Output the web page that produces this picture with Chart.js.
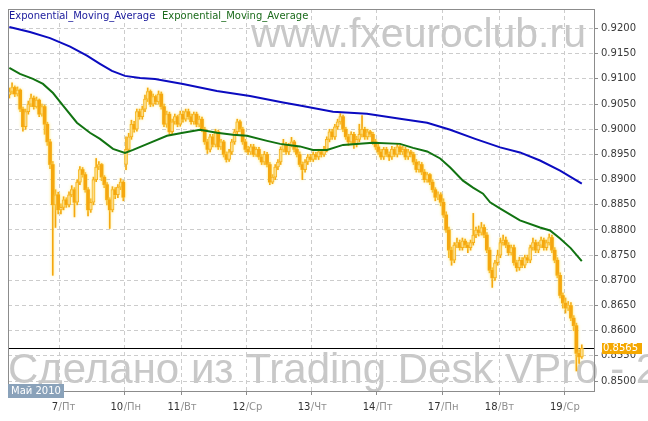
<!DOCTYPE html>
<html>
<head>
<meta charset="utf-8">
<script src="https://cdn.jsdelivr.net/npm/chart.js@4.4.1/dist/chart.umd.min.js"></script>
<style>
  html, body { margin: 0; padding: 0; background: #fff; }
  #wrap { width: 648px; height: 421px; }
</style>
</head>
<body>
<div id="wrap"><canvas id="chart"></canvas></div>
<script>
// hourly candles, prices in 1/10000 (pips), 6 May .. 19 May 2010
const opens = [
  9068, 9075, 9083, 9070, 9078, 9040, 9005, 9035, 9050, 9062, 9045, 9058, 9030, 9045, 9010, 8975, 8930, 8850, 8870,
  8840, 8845, 8860, 8850, 8870, 8880, 8855, 8895, 8920, 8910, 8880, 8840, 8855, 8900, 8925, 8930, 8905, 8890, 8860, 8840, 8880, 8870, 8885, 8895,
  8930, 8960, 8985, 9010, 9000, 9035, 9025, 9040, 9060, 9075, 9050, 9065, 9055, 9070, 9045, 9010, 9030, 8995, 9015, 9025, 9010,
  9030, 9020, 9035, 9025, 9015, 9030, 9010, 9020, 9000, 8975, 8960, 8985, 8970, 8995, 8965, 8975, 8950, 8940, 8955, 8975, 8995, 9015, 9000, 8975,
  8960, 8955, 8965, 8950, 8960, 8945, 8935, 8950, 8930, 8895, 8905, 8925, 8935, 8960, 8970, 8955, 8968, 8975, 8960, 8950, 8930, 8920, 8935, 8945,
  8940, 8950, 8945, 8955, 8950, 8960, 8980, 8995, 8985, 9005, 9015, 9025, 9000, 8985, 8975, 8990, 8970, 8980, 8990, 9000, 8985, 8995, 8990, 8975,
  8965, 8955, 8945, 8960, 8950, 8945, 8960, 8950, 8965, 8955, 8960, 8945, 8955, 8950, 8935, 8920, 8930, 8915, 8900, 8910, 8895, 8880, 8865, 8870,
  8855, 8830, 8800, 8760, 8740, 8770, 8775, 8765, 8778, 8770, 8765, 8775, 8790, 8800, 8795, 8805, 8790, 8760, 8720, 8705, 8735,
  8750, 8775, 8780, 8770, 8755, 8765, 8735, 8725, 8740, 8730, 8745, 8740, 8765, 8775, 8760, 8770, 8780, 8765, 8775, 8785, 8760, 8740, 8710, 8670,
  8655, 8645, 8650, 8625, 8610, 8555, 8548
];
const closes = [
  9075, 9083, 9070, 9078, 9040, 9005, 9035, 9050, 9062, 9045, 9058, 9030, 9045, 9010, 8975, 8930, 8850, 8870, 8840,
  8845, 8860, 8850, 8870, 8880, 8855, 8895, 8920, 8910, 8880, 8840, 8855, 8900, 8925, 8930, 8905, 8890, 8860, 8840, 8880, 8870, 8885, 8895, 8865,
  8960, 8985, 9010, 9000, 9035, 9025, 9040, 9060, 9075, 9050, 9065, 9055, 9070, 9045, 9010, 9030, 8995, 9015, 9025, 9010, 9030,
  9020, 9035, 9025, 9015, 9030, 9010, 9020, 9000, 8975, 8960, 8985, 8970, 8995, 8965, 8975, 8950, 8940, 8955, 8975, 8995, 9015, 9000, 8975, 8960,
  8955, 8965, 8950, 8960, 8945, 8935, 8950, 8930, 8895, 8905, 8925, 8935, 8960, 8970, 8955, 8968, 8975, 8960, 8950, 8930, 8920, 8935, 8945, 8940,
  8950, 8945, 8955, 8950, 8960, 8980, 8995, 8985, 9005, 9015, 9025, 9000, 8985, 8975, 8990, 8970, 8980, 8990, 9000, 8985, 8995, 8990, 8975, 8965,
  8955, 8945, 8960, 8950, 8945, 8960, 8950, 8965, 8955, 8960, 8945, 8955, 8950, 8935, 8920, 8930, 8915, 8900, 8910, 8895, 8880, 8865, 8870, 8855,
  8830, 8800, 8760, 8740, 8770, 8775, 8765, 8778, 8770, 8765, 8775, 8790, 8800, 8795, 8805, 8790, 8760, 8720, 8705, 8735, 8750,
  8775, 8780, 8770, 8755, 8765, 8735, 8725, 8740, 8730, 8745, 8740, 8765, 8775, 8760, 8770, 8780, 8765, 8775, 8785, 8760, 8740, 8710, 8670, 8655,
  8645, 8650, 8625, 8610, 8555, 8548, 8565
];
const highs = [
  9082, 9092, 9086, 9084, 9080, 9044, 9040, 9056, 9070, 9066, 9064, 9060, 9050, 9048, 9014, 8980, 8936, 8880, 8875,
  8852, 8866, 8864, 8876, 8888, 8884, 8900, 8926, 8924, 8914, 8884, 8862, 8905, 8942, 8936, 8932, 8908, 8894, 8864, 8886, 8884, 8890, 8902, 8898,
  8985, 8992, 9018, 9016, 9040, 9040, 9046, 9068, 9082, 9078, 9070, 9068, 9076, 9074, 9050, 9036, 9034, 9020, 9030, 9028, 9036,
  9036, 9040, 9040, 9030, 9034, 9034, 9026, 9024, 9004, 8980, 8990, 8990, 9000, 8998, 8980, 8978, 8955, 8960, 8980, 9000, 9020, 9018, 9004, 8980,
  8966, 8970, 8970, 8964, 8964, 8950, 8956, 8954, 8934, 8910, 8930, 8940, 8965, 8980, 8974, 8972, 8984, 8978, 8964, 8955, 8935, 8940, 8950, 8950,
  8955, 8954, 8960, 8958, 8966, 8985, 9000, 9000, 9010, 9020, 9031, 9028, 9004, 8990, 8995, 8994, 8986, 9010, 9027, 9004, 9000, 8998, 8994, 8980,
  8970, 8960, 8964, 8964, 8955, 8966, 8964, 8970, 8968, 8966, 8964, 8960, 8958, 8954, 8940, 8936, 8934, 8920, 8914, 8912, 8900, 8884, 8876, 8874,
  8862, 8836, 8806, 8766, 8775, 8784, 8780, 8784, 8782, 8775, 8780, 8833, 8806, 8808, 8815, 8810, 8795, 8765, 8725, 8740, 8760,
  8784, 8790, 8786, 8775, 8770, 8770, 8740, 8746, 8745, 8750, 8750, 8770, 8784, 8780, 8776, 8786, 8784, 8780, 8792, 8790, 8765, 8745, 8715, 8675,
  8665, 8658, 8656, 8630, 8615, 8562, 8572
];
const lows = [
  9062, 9070, 9065, 9066, 9035, 8996, 9000, 9030, 9045, 9040, 9042, 9025, 9026, 8990, 8968, 8922, 8710, 8805, 8832,
  8832, 8840, 8845, 8846, 8866, 8826, 8850, 8890, 8905, 8875, 8828, 8835, 8850, 8896, 8920, 8898, 8884, 8850, 8803, 8836, 8862, 8864, 8880, 8858,
  8920, 8955, 8980, 8994, 8996, 9020, 9020, 9035, 9055, 9045, 9046, 9050, 9050, 9040, 9005, 9004, 8990, 8990, 9010, 9005, 9006,
  9014, 9016, 9020, 9010, 9010, 9005, 9005, 8995, 8970, 8952, 8955, 8965, 8965, 8960, 8960, 8945, 8935, 8936, 8950, 8970, 8990, 8995, 8970, 8955,
  8950, 8950, 8946, 8946, 8940, 8930, 8930, 8925, 8890, 8892, 8900, 8920, 8930, 8955, 8950, 8950, 8965, 8955, 8945, 8926, 8900, 8915, 8930, 8936,
  8936, 8940, 8940, 8945, 8946, 8955, 8975, 8980, 8980, 9000, 9010, 8995, 8980, 8968, 8970, 8962, 8965, 8975, 8985, 8980, 8980, 8985, 8970, 8960,
  8950, 8940, 8940, 8946, 8938, 8940, 8946, 8945, 8950, 8950, 8940, 8940, 8945, 8930, 8915, 8915, 8910, 8895, 8895, 8890, 8875, 8858, 8860, 8848,
  8825, 8795, 8745, 8730, 8735, 8765, 8760, 8760, 8765, 8755, 8760, 8770, 8785, 8788, 8790, 8785, 8755, 8715, 8686, 8700, 8730,
  8745, 8770, 8765, 8750, 8750, 8730, 8718, 8720, 8725, 8725, 8735, 8735, 8760, 8755, 8755, 8765, 8760, 8760, 8770, 8755, 8735, 8705, 8665, 8645,
  8635, 8640, 8620, 8600, 8520, 8535, 8545
];

// moving averages, read at candle positions
const emaSlowX = [0, 7.6, 15, 22.4, 28.6, 33.4, 37.8, 42.6, 48.2, 53.7, 64, 76.5, 88.7, 100.9, 107.1, 119.3, 131.8, 144, 154, 162.5, 171.7, 180.9, 188.2, 195.6, 203, 211];
const emaSlowY = [9203, 9193, 9181, 9164, 9146, 9130, 9116, 9106, 9102, 9100, 9090, 9076, 9066, 9053, 9047, 9035, 9031, 9021, 9013, 8999, 8981, 8964, 8954, 8938, 8918, 8892];
const emaFastX = [0, 3.9, 8.7, 12.4, 16.1, 19.8, 24.9, 29.7, 33.4, 38.2, 42.6, 45.6, 51.8, 58.1, 64, 70.3, 76.5, 82.4, 87.6, 95, 99.8, 107.1, 111.9, 117.1, 123, 134, 144, 148.8, 154, 158.8, 162.5, 167.2, 170.9, 174.6, 177.2, 180.8, 188.2, 195.6, 199.3, 203, 206.9, 211];
const emaFastY = [9122, 9110, 9100, 9090, 9072, 9047, 9013, 8993, 8981, 8961, 8953, 8959, 8973, 8987, 8993, 8999, 8993, 8989, 8987, 8977, 8971, 8966, 8959, 8959, 8969, 8973, 8971, 8963, 8956, 8942, 8924, 8898, 8884, 8872, 8855, 8843, 8819, 8805, 8799, 8783, 8764, 8738];

// day separators (between candles) and their labels
const dayBounds = [18.5, 42.5, 63.5, 87.5, 111.5, 135.5, 159.5, 180.5, 204.5];
const dayNums = ["7", "10", "11", "12", "13", "14", "17", "18", "19"];
const dayNames = ["Пт", "Пн", "Вт", "Ср", "Чт", "Пт", "Пн", "Вт", "Ср"];

const yTicks = [0.8500, 0.8550, 0.8600, 0.8650, 0.8700, 0.8750, 0.8800, 0.8850, 0.8900, 0.8950, 0.9000, 0.9050, 0.9100, 0.9150, 0.9200];
const lastPrice = 0.8565;

const ORANGE = "#f5a70f";
const FONT = '"DejaVu Sans", Verdana, sans-serif';
const pip = (v) => v / 10000;

const wickData = closes.map((c, i) => ({ x: i, y: [pip(lows[i]), pip(highs[i])] }));
const bodyData = closes.map((c, i) => ({ x: i, y: [pip(opens[i]), pip(c)] }));
const isUp = closes.map((c, i) => c >= opens[i]);

const slowLine = emaSlowX.map((x, i) => ({ x, y: pip(emaSlowY[i]) }));
const fastLine = emaFastX.map((x, i) => ({ x, y: pip(emaFastY[i]) }));

const backdrop = {
  id: "backdrop",
  beforeDraw(chart) {
    const ctx = chart.ctx;
    ctx.save();
    ctx.fillStyle = "#fff";
    ctx.fillRect(0, 0, chart.width, chart.height);
    ctx.fillStyle = "#c8c8c8";
    ctx.textBaseline = "alphabetic";
    ctx.font = '41px "Liberation Sans", Arial, sans-serif';
    ctx.fillText("www.fxeuroclub.ru", 251, 47);
    ctx.font = '42px "Liberation Sans", Arial, sans-serif';
    ctx.fillText("Сделано из Trading Desk VPro - 2", 8, 383);
    ctx.restore();
  },
  beforeDatasetsDraw(chart) {
    const { ctx, chartArea, scales } = chart;
    const y = Math.round(scales.y.getPixelForValue(lastPrice)) + 0.5;
    ctx.save();
    ctx.strokeStyle = "#000";
    ctx.lineWidth = 1;
    ctx.beginPath();
    ctx.moveTo(chartArea.left, y);
    ctx.lineTo(chartArea.right, y);
    ctx.stroke();
    ctx.restore();
  },
  // soft yellow halo around the candles, like the original renderer
  beforeDatasetDraw(chart, args) {
    if (args.meta.type === "bar") {
      chart.ctx.save();
      chart.ctx.shadowColor = "rgba(255, 236, 120, 0.9)";
      chart.ctx.shadowBlur = 3;
    }
  },
  afterDatasetDraw(chart, args) {
    if (args.meta.type === "bar") chart.ctx.restore();
  },
};

const overlay = {
  id: "overlay",
  afterDraw(chart) {
    const { ctx, chartArea, scales } = chart;
    ctx.save();
    // frame
    ctx.strokeStyle = "#8c8c8c";
    ctx.lineWidth = 1;
    ctx.strokeRect(chartArea.left + 0.5, chartArea.top + 0.5, chartArea.right - chartArea.left, chartArea.bottom - chartArea.top);

    // legend
    ctx.font = "10px " + FONT;
    ctx.textBaseline = "middle";
    ctx.textAlign = "left";
    ctx.fillStyle = "#1a1a9c";
    ctx.fillText("Exponential_Moving_Average", 9, 16);
    ctx.fillStyle = "#1b6b1b";
    ctx.fillText("Exponential_Moving_Average", 162, 16);

    // day labels
    dayBounds.forEach((v, i) => {
      const x = scales.x.getPixelForValue(v);
      ctx.textAlign = "right";
      ctx.fillStyle = "#333";
      ctx.fillText(dayNums[i], x - 1.5, 407);
      ctx.textAlign = "left";
      ctx.fillStyle = "#8e8e8e";
      ctx.fillText("/" + dayNames[i], x - 1, 407);
    });

    // month box
    ctx.fillStyle = "#8aa2ba";
    ctx.fillRect(8, 384, 56, 14);
    ctx.fillStyle = "#fff";
    ctx.textAlign = "left";
    ctx.fillText("Май 2010", 11, 391);

    // last price tag
    const py = Math.round(scales.y.getPixelForValue(lastPrice));
    ctx.fillStyle = "#f5a800";
    ctx.fillRect(602, py - 5, 40, 11);
    ctx.fillStyle = "#fff";
    ctx.fillText(lastPrice.toFixed(4), 603, py + 0.5);
    ctx.restore();
  },
};

new Chart(document.getElementById("chart"), {
  type: "line",
  data: {
    datasets: [
      { type: "line", data: slowLine, borderColor: "#0b0bc0", borderWidth: 2, pointRadius: 0, tension: 0, order: 0 },
      { type: "line", data: fastLine, borderColor: "#117311", borderWidth: 2, pointRadius: 0, tension: 0, order: 1 },
      {
        type: "bar", data: bodyData, grouped: false, barThickness: 3, order: 2,
        backgroundColor: isUp.map((u) => (u ? "#fbdc8c" : ORANGE)),
        borderColor: ORANGE,
        borderWidth: isUp.map((u) => (u ? 1 : 0)),
        borderSkipped: false,
      },
      { type: "bar", data: wickData, grouped: false, barThickness: 1, order: 3, backgroundColor: ORANGE, borderWidth: 0 },
    ],
  },
  options: {
    responsive: true,
    maintainAspectRatio: false,
    animation: false,
    events: [],
    devicePixelRatio: 1,
    layout: { padding: { left: 8, top: 8, right: 0, bottom: 0 } },
    plugins: { legend: { display: false }, tooltip: { enabled: false } },
    scales: {
      x: {
        type: "linear",
        min: -0.5,
        max: 215.5,
        offset: false,
        afterBuildTicks: (s) => { s.ticks = dayBounds.map((v) => ({ value: v })); },
        afterFit: (s) => { s.height = 30; },
        grid: { color: "#cccccc", offset: false, tickLength: 4, tickColor: "#8c8c8c", tickBorderDash: [] },
        border: { display: false, dash: [4, 3] },
        ticks: { callback: () => "", autoSkip: false, maxRotation: 0 },
      },
      y: {
        position: "right",
        min: 0.84803,
        max: 0.92388,
        afterBuildTicks: (s) => { s.ticks = yTicks.map((v) => ({ value: v })); },
        afterFit: (s) => { s.width = 54; },
        grid: { color: "#cccccc", tickLength: 4, tickColor: "#8c8c8c", tickBorderDash: [] },
        border: { display: false, dash: [4, 3] },
        ticks: {
          padding: 3,
          color: "#3a3a3a",
          font: { family: "DejaVu Sans", size: 10 },
          callback: (v) => Number(v).toFixed(4),
        },
      },
    },
  },
  plugins: [backdrop, overlay],
});
</script>
</body>
</html>
